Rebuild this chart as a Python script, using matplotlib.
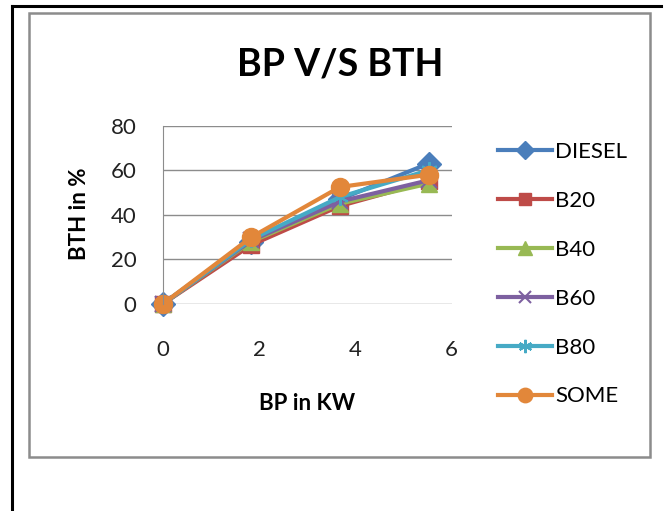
import matplotlib.pyplot as plt
from matplotlib.patches import Rectangle
from matplotlib.lines import Line2D

# brake power (kW) and brake thermal efficiency (%) for each fuel blend
bp = [0, 1.84, 3.68, 5.52]
diesel = [0, 28, 47, 63]
b20 = [0, 26.5, 44, 55]
b40 = [0, 28, 45, 54]
b60 = [0, 28.5, 46, 55.5]
b80 = [0, 29, 48, 60]
some = [0, 30, 52.5, 58]

series = [
    ("DIESEL", diesel, "#4A7EBB", "D", 12),
    ("B20", b20, "#BE4B48", "s", 11),
    ("B40", b40, "#98B954", "^", 12),
    ("B60", b60, "#7D60A0", "x", 11),
    ("B80", b80, "#46AAC5", (6, 2, 0), 12),
    ("SOME", some, "#E2873A", "o", 13),
]

plt.rcParams['font.family'] = ['Lato', 'DejaVu Sans']

fig = plt.figure(figsize=(6.66, 5.11), dpi=100)
W, H = 666, 511

# page border lines and chart frame
fig.add_artist(Line2D([12 / W, 661 / W], [1 - 6 / H, 1 - 6 / H], color="black", lw=2.2))
fig.add_artist(Line2D([12 / W, 12 / W], [0, 1 - 6 / H], color="black", lw=2.2))
fig.add_artist(Rectangle((29 / W, 1 - 457 / H), (650 - 29) / W, (457 - 13) / H,
                         fill=False, edgecolor="#8c8c8c", lw=1.8))

ax = fig.add_axes([162.7 / W, 1 - 304 / H, (451.7 - 162.7) / W, (304 - 125.7) / H])

for name, vals, col, mk, ms in series:
    ax.plot(bp, vals, color=col, lw=3, marker=mk, markersize=ms, label=name,
            markeredgecolor=col, markeredgewidth=1.5 if mk in ("x", (6, 2, 0)) else 1,
            clip_on=False)

ax.set_xlim(0, 6)
ax.set_ylim(0, 80)
ax.set_xticks([0, 2, 4, 6])
ax.set_yticks([0, 20, 40, 60, 80])
ax.grid(axis="y", color="#8c8c8c", lw=1)
ax.set_axisbelow(True)
for side in ("top", "right", "bottom"):
    ax.spines[side].set_visible(False)
ax.spines["left"].set_color("#8c8c8c")
ax.tick_params(length=0, labelsize=16, colors="#222222")
ax.tick_params(axis="x", pad=26)
ax.tick_params(axis="y", pad=19)

fig.text(307 / W, 1 - 403 / H, "BP in KW", fontsize=16, fontweight="bold",
         ha="center", va="center")
fig.text(80 / W, 1 - 214 / H, "BTH in %", fontsize=16, fontweight="bold",
         ha="center", va="center", rotation=90)

fig.text(340 / W, 1 - 64 / H, "BP V/S BTH", fontsize=27, fontweight="bold",
         ha="center", va="center")

fig.legend(loc="upper left", bbox_to_anchor=(478 / W, 1 - 122 / H), frameon=False,
           fontsize=16, labelspacing=1.3, handlelength=2.43, handletextpad=0.15,
           markerscale=0.8)

fig.savefig("out.png", dpi=100)
